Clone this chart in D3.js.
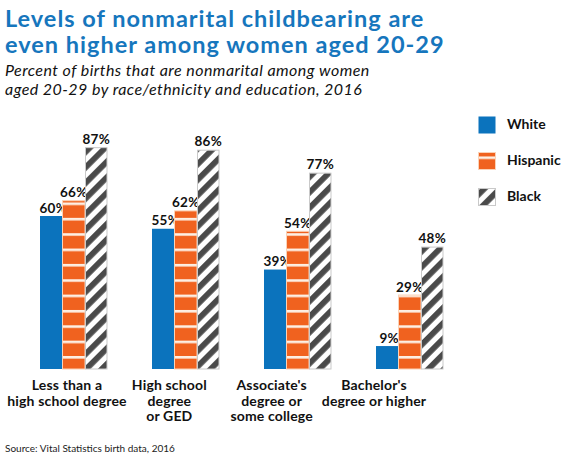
<!DOCTYPE html>
<html><head><meta charset="utf-8">
<script src="https://cdn.jsdelivr.net/npm/d3@7"></script>
<style>
body{margin:0;background:#fff;}
text{font-family:Lato,"Open Sans",sans-serif;}
</style></head>
<body><svg id="c" width="570" height="458"></svg>
<script>
const categories = [["Less than a","high school degree"],["High school","degree","or GED"],["Associate's","degree or","some college"],["Bachelor's","degree or higher"]];
const seriesNames = ["White","Hispanic","Black"];
const white = [60,55,39,9];
const hispanic = [66,62,54,29];
const black = [87,86,77,48];
const titleLines = ["Levels of nonmarital childbearing are","even higher among women aged 20-29"];
const subtitleLines = ["Percent of births that are nonmarital among women","aged 20-29 by race/ethnicity and education, 2016"];
const source = "Source: Vital Statistics birth data, 2016";

const svg = d3.select("#c");
const defs = svg.append("defs");
const baseY = 369;
const BLUE = "#0b73bd", ORANGE = "#f0621f", DARK = "#4a4a4a";

const hp = defs.append("pattern").attr("id","hisp").attr("patternUnits","userSpaceOnUse")
  .attr("x",0).attr("y",baseY-13).attr("width",10).attr("height",15.35);
hp.append("rect").attr("width",10).attr("height",15.35).attr("fill",ORANGE);
hp.append("rect").attr("width",10).attr("height",2.6).attr("fill","#fdf0e4");
const bp = defs.append("pattern").attr("id","blk").attr("patternUnits","userSpaceOnUse")
  .attr("width",11).attr("height",11).attr("patternTransform","rotate(45)");
bp.append("rect").attr("width",11).attr("height",11).attr("fill","#fff");
bp.append("rect").attr("width",5.8).attr("height",11).attr("fill",DARK);

const y = d3.scaleLinear().domain([0,100]).range([baseY,114]);
const x0 = d3.scaleBand().domain(d3.range(categories.length)).range([40,40+112*4]).paddingInner(0).paddingOuter(0);
const x1 = d3.scaleBand().domain(seriesNames).range([0,67.5]);
const xl = d3.scalePoint().domain(d3.range(categories.length)).range([67,374]);

const series = [white,hispanic,black];
const fills = [BLUE,"url(#hisp)","url(#blk)"];
const strokes = ["none","#fbd2b6","#c9c9c9"];

svg.append("g").selectAll("text").data(titleLines).join("text")
  .attr("x",5).attr("y",(d,i)=>27+i*26).attr("fill","#1676bd")
  .attr("font-size",23.5).attr("letter-spacing",1.0).attr("font-weight",700).text(d=>d);
svg.append("g").selectAll("text").data(subtitleLines).join("text")
  .attr("x",5).attr("y",(d,i)=>76+i*19).attr("fill","#111")
  .attr("font-size",16).attr("letter-spacing",0.45).attr("font-style","italic").text(d=>d);

const g = svg.append("g");
seriesNames.forEach((s,si)=>{
  const vals = series[si];
  g.selectAll(null).data(vals).join("rect")
    .attr("x",(d,i)=>x0(i)+x1(s)+(si==2?0.5:0))
    .attr("y",d=>y(d)+(si==2?0.5:0))
    .attr("width",x1.bandwidth()-(si==2?1:0))
    .attr("height",d=>baseY-y(d)-(si==2?0.5:0))
    .attr("fill",fills[si])
    .attr("stroke",strokes[si]).attr("stroke-width",si==0?0:1);
  g.selectAll(null).data(vals).join("text")
    .attr("x",(d,i)=>x0(i)+x1(s)+x1.bandwidth()/2+(si==0?2:0))
    .attr("y",d=>y(d)-3.5)
    .attr("text-anchor","middle").attr("font-size",13.5).attr("letter-spacing",0.2).attr("font-weight",700).attr("fill","#111")
    .text(d=>d+"%");
});

const lab = svg.append("g");
categories.forEach((lines,i)=>{
  lab.append("text").attr("text-anchor","middle").attr("font-size",14).attr("letter-spacing",0.15).attr("font-weight",700).attr("fill","#111")
    .selectAll("tspan").data(lines).join("tspan")
    .attr("x",xl(i)).attr("y",(d,j)=>390+j*15.5).text(d=>d);
});

const leg = svg.append("g");
seriesNames.forEach((s,i)=>{
  const ly = 116+i*36;
  leg.append("rect").attr("x",478.5).attr("y",ly+0.5).attr("width",17).attr("height",17)
    .attr("fill",fills[i]).attr("stroke",strokes[i]).attr("stroke-width",i==0?0:1);
  leg.append("text").attr("x",507).attr("y",ly+13).attr("font-size",14).attr("font-weight",700).attr("fill","#111").text(s);
});

svg.append("text").attr("x",5).attr("y",452).attr("font-size",10).attr("fill","#222").text(source);
</script></body></html>
